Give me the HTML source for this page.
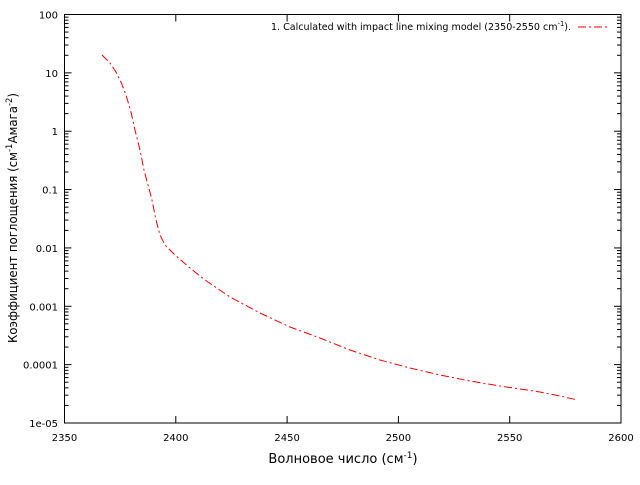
<!DOCTYPE html>
<html><head><meta charset="utf-8"><style>html,body{margin:0;padding:0;background:#fff}</style></head>
<body>
<svg width="640" height="480" xmlns="http://www.w3.org/2000/svg" font-family="DejaVu Sans, Liberation Sans, sans-serif">
<rect width="640" height="480" fill="#fff"/>
<g id="ticks" stroke="#000" stroke-width="1"></g>
<rect x="64.5" y="14.5" width="556.5" height="408.5" fill="none" stroke="#000" stroke-width="1"/>
<g font-size="10" fill="#000" id="labels"></g>
<text x="343" y="463" font-size="13" text-anchor="middle">Волновое число (см<tspan dy="-5" font-size="9">-1</tspan><tspan dy="5">)</tspan></text>
<text transform="translate(17,218) rotate(-90)" font-size="12.5" text-anchor="middle" textLength="250" lengthAdjust="spacingAndGlyphs">Коэффициент поглощения (см<tspan dy="-5" font-size="9">-1</tspan><tspan dy="5">Амага</tspan><tspan dy="-5" font-size="9">-2</tspan><tspan dy="5">)</tspan></text>
<text x="571" y="30" font-size="10" text-anchor="end" textLength="300" lengthAdjust="spacingAndGlyphs">1. Calculated with impact line mixing model (2350-2550 cm<tspan dy="-4" font-size="7">-1</tspan><tspan dy="4">).</tspan></text>
<line x1="578" y1="27" x2="608" y2="27" stroke="#e00" stroke-width="1" stroke-dasharray="8,3,2,3"/>
<polyline fill="none" stroke="#e00" stroke-width="1" stroke-dasharray="8,3,2,3" points="102,55 110,63 116,72 121,82 126,95 131,112 135,130 140,150 144,170 148,185 152,200 156,220 160,235 165,245 175,255 190,268 205,280 230,297 260,313 290,327 320,338 350,350 380,360 410,368 440,375 470,381 500,386 540,392 560,396 578,400"/>
<script>
var t=document.getElementById('ticks'),l=document.getElementById('labels'),ns='http://www.w3.org/2000/svg';
function ln(a,b,c,d){var e=document.createElementNS(ns,'line');e.setAttribute('x1',a);e.setAttribute('y1',b);e.setAttribute('x2',c);e.setAttribute('y2',d);t.appendChild(e);}
function tx(x,y,s,anc){var e=document.createElementNS(ns,'text');e.setAttribute('x',x);e.setAttribute('y',y);e.setAttribute('text-anchor',anc);e.textContent=s;l.appendChild(e);}
var L=64.5,R=621,T=14.5,B=423,D=(B-T)/7;
var yl=['1e-05','0.0001','0.001','0.01','0.1','1','10','100'];
for(var k=0;k<=7;k++){var y=B-k*D;ln(L,y,L+7,y);ln(R,y,R-7,y);tx(58,y+4,yl[k],'end');
 if(k<7)for(var m=2;m<10;m++){var yy=y-Math.log10(m)*D;ln(L,yy,L+4,yy);ln(R,yy,R-4,yy);}}
for(var i=0;i<=5;i++){var x=L+i*(R-L)/5;ln(x,B,x,B-7);ln(x,T,x,T+7);tx(x,441,String(2350+50*i),'middle');}
</script>
</svg>
</body></html>
